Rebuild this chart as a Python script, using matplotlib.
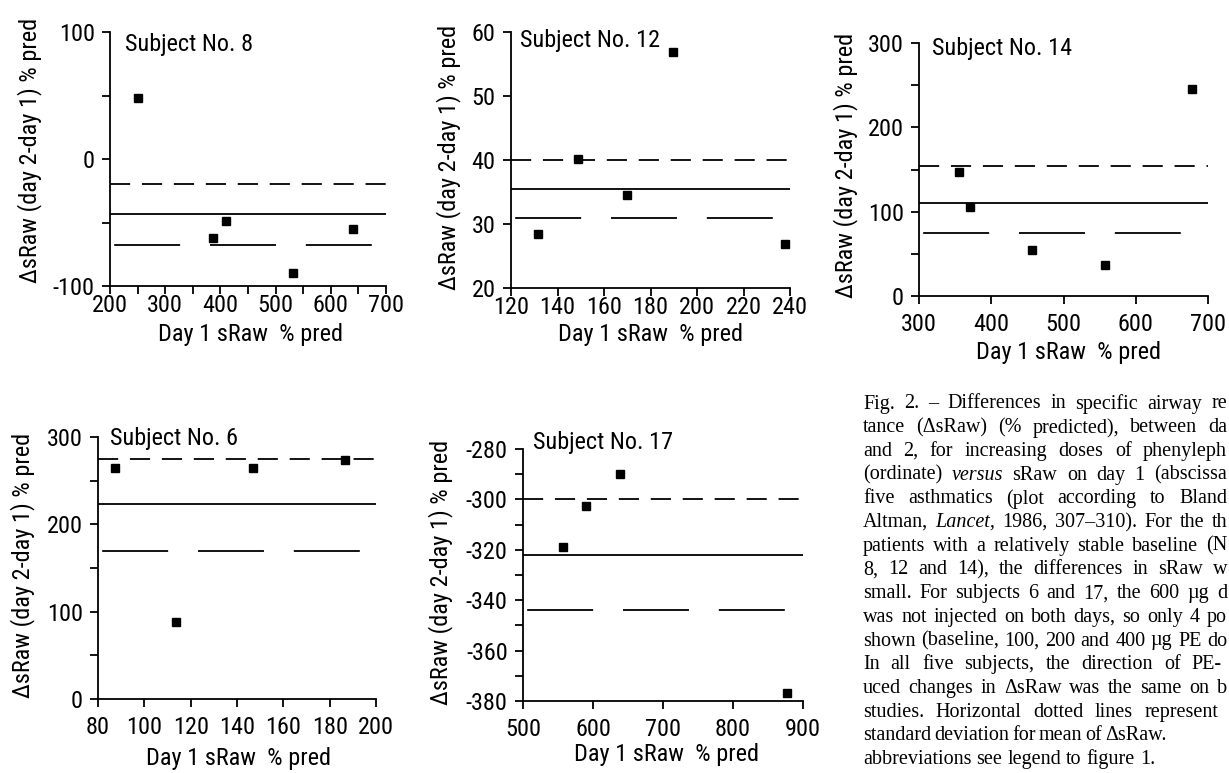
import matplotlib
matplotlib.use("Agg")
import matplotlib.pyplot as plt
from matplotlib import font_manager as fm
from matplotlib.font_manager import FontProperties
from matplotlib.textpath import TextPath
from matplotlib.ticker import MultipleLocator

# ---------------- data ----------------
s8_x = [250, 387, 411, 531, 640]
s8_y = [48, -62, -49, -90, -55]
s8_lines = [-20, -43, -68]          # upper (mean+SD), mean, lower (mean-SD)

s12_x = [131.5, 149, 170, 189.5, 238]
s12_y = [28.4, 40.2, 34.6, 56.8, 26.8]
s12_lines = [40.0, 35.5, 30.9]

s14_x = [355, 371, 456, 557, 678]
s14_y = [147, 106, 54, 37, 246]
s14_lines = [154.5, 110, 75]

s6_x = [87.3, 113.8, 147, 186.6]
s6_y = [265, 88, 264, 274]
s6_lines = [275, 223, 169]

s17_x = [557, 590, 638.5, 877]
s17_y = [-319, -302.5, -290, -377]
s17_lines = [-300, -322, -344]

titles = ["Subject No. 8", "Subject No. 12", "Subject No. 14", "Subject No. 6", "Subject No. 17"]
ylabel = "\u0394sRaw (day 2-day 1) % pred"
xlabel = "Day 1 sRaw  % pred"

IT = "italic"
caption_lines = [
    "Fig. 2. \u2013 Differences in specific airway re",
    "tance (\u0394sRaw) (% predicted), between da",
    "and 2, for increasing doses of phenyleph",
    "(ordinate) *versus sRaw on day 1 (abscissa",
    "five asthmatics (plot according to Bland",
    "Altman, *Lancet, 1986, 307\u2013310).  For the th",
    "patients with a relatively stable baseline (N",
    "8, 12 and 14), the differences in sRaw w",
    "small.  For subjects 6 and 17, the 600 \u00b5g d",
    "was not injected on both days, so only 4 po",
    "shown (baseline, 100, 200 and 400 \u00b5g PE do",
    "In all five subjects, the direction of PE-",
    "uced changes in \u0394sRaw was the same on b",
    "studies.  Horizontal dotted lines represent",
    "standard deviation for mean of \u0394sRaw.",
    "abbreviations see legend to figure 1.",
]
caption_right = [1227, 1227, 1227, 1227, 1227, 1227, 1227, 1227, 1227, 1227,
                 1227, 1222, 1227, 1218, 1160, None]

# ---------------- fonts ----------------
def _w(v):
    if isinstance(v, str):
        return fm.weight_dict.get(v, 400)
    return v

pref = ["Liberation Sans Narrow", "Arial Narrow", "Roboto Condensed",
        "Noto Sans", "DejaVu Sans", "Open Sans", "Roboto", "Liberation Sans"]
best = None
for f in fm.fontManager.ttflist:
    if f.style != "normal" or _w(f.weight) not in (400,):
        continue
    st = str(f.stretch)
    if st in ("condensed", "semi-condensed", "extra-condensed") or \
            "Narrow" in f.name or "Condensed" in f.name:
        rank = pref.index(f.name) if f.name in pref else 50
        if best is None or rank < best[0]:
            best = (rank, f.name, st)
if best is not None:
    SANS_NAME, SANS_STRETCH = best[1], best[2]
else:
    SANS_NAME, SANS_STRETCH = "Liberation Sans", "normal"

plt.rcParams["font.family"] = [SANS_NAME, "DejaVu Sans"]
plt.rcParams["font.stretch"] = SANS_STRETCH
plt.rcParams["axes.unicode_minus"] = False
plt.rcParams["lines.scale_dashes"] = False

_p = FontProperties(family=SANS_NAME, stretch=SANS_STRETCH, size=10)
_wpx = TextPath((0, 0), "Subject No. 8", prop=_p).get_extents().width * 100 / 72
FS = min(19.0, 10 * 126 / _wpx)

SERIF = ["Liberation Serif", "DejaVu Serif"]
CFS = 14.5

W, H = 1229, 773
fig = plt.figure(figsize=(W / 100, H / 100), dpi=100)


def fx(px):
    return px / W


def fy(py):
    return 1 - py / H


def add_ax(l, r, t, b):
    return fig.add_axes([l / W, 1 - b / H, (r - l) / W, (b - t) / H])


def style(ax, xlim, ylim, xmaj, xmin, ymaj, ymin, xpad):
    ax.set_xlim(*xlim)
    ax.set_ylim(*ylim)
    for s in ["top", "right"]:
        ax.spines[s].set_visible(False)
    for s in ["left", "bottom"]:
        ax.spines[s].set_linewidth(1.3)
    ax.xaxis.set_major_locator(MultipleLocator(xmaj))
    ax.yaxis.set_major_locator(MultipleLocator(ymaj))
    if xmin:
        ax.xaxis.set_minor_locator(MultipleLocator(xmin))
    if ymin:
        ax.yaxis.set_minor_locator(MultipleLocator(ymin))
    ax.tick_params(which="both", direction="out", length=6, width=1.3,
                   labelsize=FS, colors="black")
    ax.tick_params(axis="x", pad=xpad)
    ax.tick_params(axis="y", pad=5)
    ax.patch.set_alpha(0)


def draw(ax, x, y, lines):
    up, mean, lo = lines
    ax.axhline(up, color="black", lw=1.3, linestyle=(0, (14.5, 8.5)))
    ax.axhline(mean, color="black", lw=1.3, linestyle="-")
    ax.axhline(lo, color="black", lw=1.3, linestyle=(-3, (47.5, 21.5)))
    ax.plot(x, y, "s", color="black", ms=5.8, clip_on=False, zorder=5)


panels = [
    ((110, 386, 32, 286), (s8_x, s8_y, s8_lines), ((200, 700), (-100, 100), 100, 50, 100, 50), 0),
    ((511, 790, 32, 288), (s12_x, s12_y, s12_lines), ((120, 240), (20, 60), 20, None, 10, None), 0),
    ((919, 1208, 43, 296), (s14_x, s14_y, s14_lines), ((300, 700), (0, 300), 100, None, 100, 50), 6),
    ((98, 376, 437, 699), (s6_x, s6_y, s6_lines), ((80, 200), (0, 300), 20, None, 100, 50), 6),
    ((523, 803, 449, 701), (s17_x, s17_y, s17_lines), ((500, 900), (-380, -280), 100, None, 20, 10), 6),
]

title_pos = [(125, 44), (520, 40), (932, 48), (110, 438), (533, 443)]
ylab_pos = [(30, 150), (449, 157), (846, 165), (23, 565), (441, 572)]
xlab_pos = [(250, 335), (650, 335), (1069, 353), (238, 758), (666, 755)]

for i, (box, (x, y, lines), (xl, yl, xmaj, xmin, ymaj, ymin), xpad) in enumerate(panels):
    ax = add_ax(*box)
    style(ax, xl, yl, xmaj, xmin, ymaj, ymin, xpad)
    draw(ax, x, y, lines)
    tx, ty = title_pos[i]
    fig.text(fx(tx), fy(ty), titles[i], fontsize=FS, ha="left", va="center")
    lx, ly = ylab_pos[i]
    fig.text(fx(lx), fy(ly), ylabel, fontsize=FS, rotation=90, ha="center", va="center")
    gx, gy = xlab_pos[i]
    fig.text(fx(gx), fy(gy), xlabel, fontsize=FS, ha="center", va="center")

# ---------------- caption (justified, word by word) ----------------
renderer = fig.canvas.get_renderer()


def word_width(s, st):
    t = fig.text(0, 0, s, fontsize=CFS, family=SERIF, style=st)
    w = t.get_window_extent(renderer).width
    t.remove()
    return w


space_w = word_width("a a", "normal") - word_width("aa", "normal")

cap_x = 863
cap_y0 = 404
cap_dy = 23.7
for k, line in enumerate(caption_lines):
    y = cap_y0 + k * cap_dy
    tokens = []
    for wd in line.split(" "):
        if wd == "":
            continue
        if wd.startswith("*"):
            tokens.append((wd[1:], IT))
        else:
            tokens.append((wd, "normal"))
    widths = [word_width(w, s) for w, s in tokens]
    total = sum(widths)
    ngap = len(tokens) - 1
    right = caption_right[k]
    if right is not None and ngap > 0:
        gap = (right - cap_x - total) / ngap
        gap = max(gap, 0.6 * space_w)
    else:
        gap = space_w
    xcur = cap_x
    for (w, s), wd in zip(tokens, widths):
        fig.text(fx(xcur), fy(y), w, fontsize=CFS, family=SERIF, style=s,
                 ha="left", va="center")
        xcur += wd + gap

fig.savefig("out.png", dpi=100)
